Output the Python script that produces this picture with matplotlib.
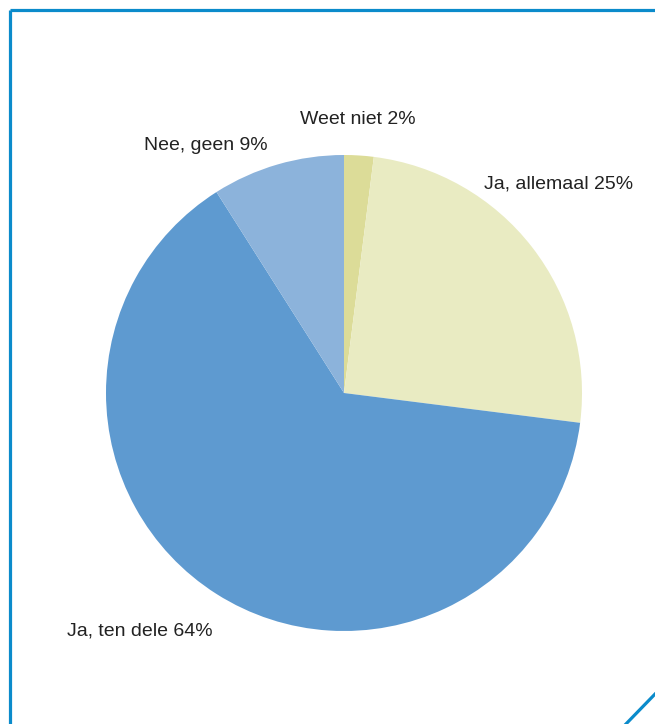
import matplotlib.pyplot as plt
from matplotlib.lines import Line2D
from matplotlib import font_manager

# Data
labels = ['Weet niet', 'Ja, allemaal', 'Ja, ten dele', 'Nee, geen']
values = [2, 25, 64, 9]
colors = ['#dcdc98', '#e9ebc2', '#5e9ad0', '#8cb3db']

# Label positions (data coords, radius = 1)
label_pos = [(0.06, 1.15), (0.90, 0.88), (-0.86, -1.00), (-0.58, 1.04)]

W, H = 655, 724
fig = plt.figure(figsize=(W / 100, H / 100), dpi=100)

names = {f.name for f in font_manager.fontManager.ttflist}
family = 'Liberation Sans Narrow' if 'Liberation Sans Narrow' in names else 'Liberation Sans'

cx, cy, r = 344, 393, 238
ax = fig.add_axes([(cx - r) / W, (H - cy - r) / H, 2 * r / W, 2 * r / H])
ax.pie(values, colors=colors, startangle=90, counterclock=False,
       wedgeprops={'linewidth': 0})
ax.set_xlim(-1, 1)
ax.set_ylim(-1, 1)
ax.set_aspect('equal')
ax.axis('off')

for lab, v, (x, y) in zip(labels, values, label_pos):
    ax.text(x, y, f'{lab} {v}%', ha='center', va='center', fontsize=14,
            family=family, color='#222222', clip_on=False)

# Frame lines
blue = '#0b8bcb'
def px(x, y):
    return (x / W, 1 - y / H)

for (x0, y0), (x1, y1) in [((10, 10), (655, 10)), ((10, 10), (10, 724)), ((624, 726), (657, 692))]:
    a, b = px(x0, y0), px(x1, y1)
    fig.add_artist(Line2D([a[0], b[0]], [a[1], b[1]], color=blue, lw=2.3,
                          transform=fig.transFigure, solid_capstyle='butt'))

fig.savefig('out.png', dpi=100)
